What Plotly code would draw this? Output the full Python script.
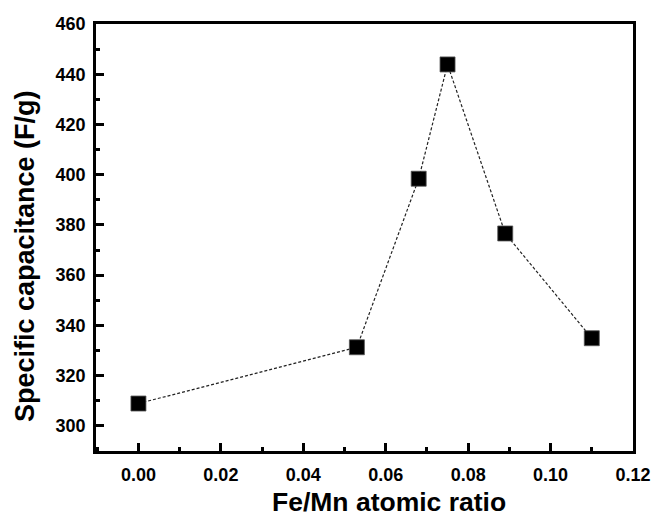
import plotly.graph_objects as go

# Fe/Mn atomic ratio vs. specific capacitance
fe_mn_ratio = [0.0, 0.053, 0.068, 0.075, 0.089, 0.110]
capacitance = [308.9, 331.3, 398.4, 443.9, 376.6, 334.9]

x_ticks = [0.00, 0.02, 0.04, 0.06, 0.08, 0.10, 0.12]
y_ticks = [300, 320, 340, 360, 380, 400, 420, 440, 460]

x_title = "Fe/Mn atomic ratio"
y_title = "Specific capacitance (F/g)"

FONT = "Liberation Sans, Arial, sans-serif"

fig = go.Figure()
fig.add_trace(go.Scatter(
    x=fe_mn_ratio,
    y=capacitance,
    mode="lines+markers",
    line=dict(color="#222222", width=1.2, dash="3px,2px"),
    marker=dict(symbol="square", size=15, color="black",
                line=dict(color="#555555", width=0.8)),
    showlegend=False,
))

axis_common = dict(
    showline=True,
    linecolor="black",
    linewidth=2.5,
    mirror=True,
    showgrid=False,
    zeroline=False,
    automargin=False,
    ticks="inside",
    ticklen=8,
    tickwidth=2.5,
    tickcolor="black",
    tickfont=dict(family=FONT, size=18, color="black"),
)

fig.update_xaxes(
    range=[-0.0103, 0.12],
    tickvals=x_ticks,
    ticktext=[f"<b>{v:.2f}</b>" for v in x_ticks],
    minor=dict(dtick=0.01, ticks="inside", ticklen=4, tickwidth=2.5, tickcolor="black"),
    ticklabelstandoff=6,
    **axis_common,
)
fig.update_yaxes(
    range=[290, 460],
    tickvals=y_ticks,
    ticktext=[f"<b>{v}</b>" for v in y_ticks],
    minor=dict(dtick=10, ticks="inside", ticklen=4, tickwidth=2.5, tickcolor="black"),
    ticklabelstandoff=4,
    **axis_common,
)

# axis titles placed as annotations (the x title sits right of the plot centre)
fig.add_annotation(
    text=f"<b>{x_title}</b>", xref="paper", yref="paper",
    x=0.5456, y=-0.12, xanchor="center", yanchor="middle",
    showarrow=False, font=dict(family=FONT, size=26.5, color="black"),
)
fig.add_annotation(
    text=f"<b>{y_title}</b>", xref="paper", yref="paper",
    x=-0.132, y=0.4567, xanchor="center", yanchor="middle", textangle=-90,
    showarrow=False, font=dict(family=FONT, size=27, color="black"),
)

fig.update_layout(
    width=654,
    height=516,
    margin=dict(l=96, r=21, t=24, b=65),
    paper_bgcolor="white",
    plot_bgcolor="white",
)

fig.write_html("out.html")
